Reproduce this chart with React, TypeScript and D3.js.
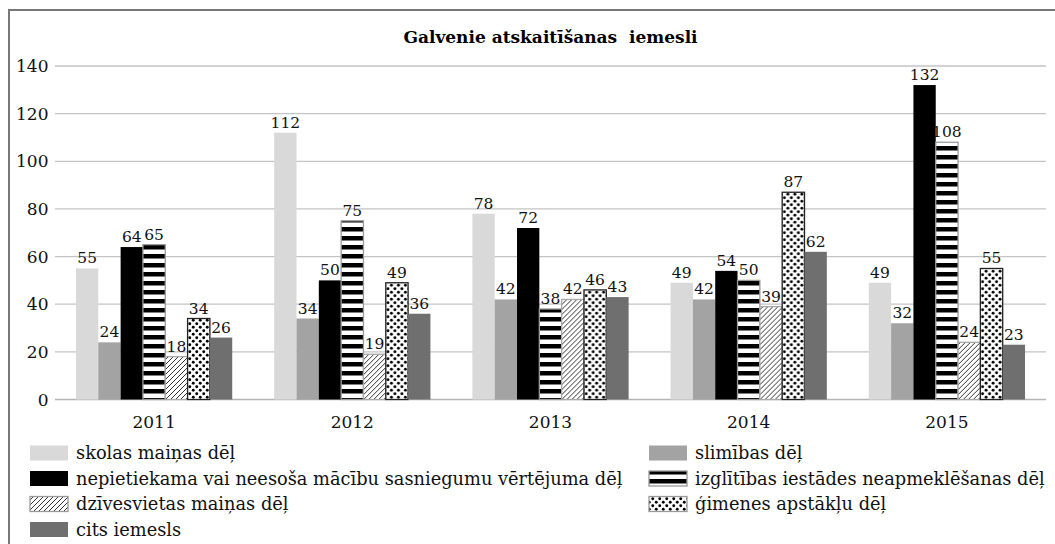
import React from 'react';
import * as d3 from 'd3';

const years = ['2011', '2012', '2013', '2014', '2015'];

const seriesNames = [
  'skolas maiņas dēļ',
  'slimības dēļ',
  'nepietiekama vai neesoša mācību sasniegumu vērtējuma dēļ',
  'izglītības iestādes neapmeklēšanas dēļ',
  'dzīvesvietas maiņas dēļ',
  'ģimenes apstākļu dēļ',
  'cits iemesls',
];

const skolas = [55, 112, 78, 49, 49];
const slimibas = [24, 34, 42, 42, 32];
const nepietiekama = [64, 50, 72, 54, 132];
const izglitibas = [65, 75, 38, 50, 108];
const dzivesvietas = [18, 19, 42, 39, 24];
const gimenes = [34, 49, 46, 87, 55];
const cits = [26, 36, 43, 62, 23];

const seriesValues = [skolas, slimibas, nepietiekama, izglitibas, dzivesvietas, gimenes, cits];

// fill + outline for each series (patterns defined in <defs>)
const fills = ['#d9d9da', '#a3a3a3', '#000000', 'url(#stripes)', 'url(#hatch)', 'url(#dots)', '#6f6f6f'];
const strokes = ['none', 'none', 'none', '#9a9a9a', '#a8a8a8', '#222', 'none'];

const W = 1055;
const H = 544;
const PLOT = { left: 55, right: 1046, top: 66, bottom: 399.5 };
const FONT = '"DejaVu Serif", serif';

const App = () => {
  const x0 = d3.scaleBand<string>().domain(years).range([PLOT.left, PLOT.right]).padding(0);
  const x1 = d3
    .scaleBand<string>()
    .domain(seriesNames)
    .range([0, x0.bandwidth()])
    .paddingInner(0)
    .paddingOuter(0.94);
  const y = d3.scaleLinear().domain([0, 140]).range([PLOT.bottom, PLOT.top]);
  const ticks = y.ticks(7);

  // legend: 2 columns, row-major like Excel
  const legendCols = [30, 649];
  const legendRowY = (r: number) => 453 + r * 25.5;

  return (
    <div style={{ position: 'absolute', left: 0, top: 0 }}>
      <svg width={W} height={H} style={{ display: 'block', background: '#fff' }}>
        <defs>
          <pattern id="stripes" patternUnits="userSpaceOnUse" width={9} height={9}>
            <rect width={9} height={9} fill="#fff" />
            <rect y={2} width={9} height={4.5} fill="#000" />
          </pattern>
          <pattern id="hatch" patternUnits="userSpaceOnUse" width={5} height={5}>
            <rect width={5} height={5} fill="#fff" />
            <path d="M-1,6 L6,-1 M-1,1 L1,-1 M4,6 L6,4" stroke="#000" strokeWidth={0.8} />
          </pattern>
          <pattern id="dots" patternUnits="userSpaceOnUse" width={7} height={7}>
            <rect width={7} height={7} fill="#fff" />
            <circle cx={1.75} cy={1.75} r={1.45} fill="#000" />
            <circle cx={5.25} cy={5.25} r={1.45} fill="#000" />
          </pattern>
        </defs>

        {/* rāmis */}
        <path d={`M9,${H + 5} V10 H${W + 5}`} fill="none" stroke="#777" strokeWidth={2} />

        <text
          x={(PLOT.left + PLOT.right) / 2}
          y={43}
          textAnchor="middle"
          fontFamily={FONT}
          fontWeight="bold"
          fontSize={17}
          style={{ whiteSpace: 'pre' }}
        >
          Galvenie atskaitīšanas  iemesli
        </text>

        {/* režģis un Y ass */}
        {ticks.map((t) => (
          <g key={t}>
            <line
              x1={PLOT.left}
              x2={PLOT.right}
              y1={y(t)}
              y2={y(t)}
              stroke={t === 0 ? '#b5b5b5' : '#c4c4c4'}
              strokeWidth={1.3}
            />
            <text x={48.5} y={y(t) + 6} textAnchor="end" fontFamily={FONT} fontSize={17} fill="#111">
              {t}
            </text>
          </g>
        ))}

        {/* stabiņi */}
        {years.map((yr, i) => (
          <g key={yr} transform={`translate(${x0(yr)},0)`}>
            {seriesNames.map((s, j) => {
              const v = seriesValues[j][i];
              const bx = x1(s) as number;
              const bw = x1.bandwidth();
              return (
                <g key={s}>
                  <rect
                    x={bx}
                    y={y(v)}
                    width={bw}
                    height={y(0) - y(v)}
                    fill={fills[j]}
                    stroke={strokes[j]}
                    strokeWidth={1.3}
                  />
                  <text
                    x={bx + bw / 2}
                    y={y(v) - 5}
                    textAnchor="middle"
                    fontFamily={FONT}
                    fontSize={15.5}
                    fill="#111"
                  >
                    {v}
                  </text>
                </g>
              );
            })}
            <text
              x={x0.bandwidth() / 2}
              y={428}
              textAnchor="middle"
              fontFamily={FONT}
              fontSize={17}
              fill="#111"
            >
              {yr}
            </text>
          </g>
        ))}

        {/* leģenda */}
        {seriesNames.map((s, j) => {
          const col = j % 2;
          const row = Math.floor(j / 2);
          const lx = legendCols[col];
          const ly = legendRowY(row);
          return (
            <g key={s}>
              <rect
                x={lx}
                y={ly - 7.5}
                width={38}
                height={15}
                fill={fills[j]}
                stroke={strokes[j] === 'none' ? 'none' : '#999'}
                strokeWidth={1.3}
              />
              <text x={lx + 46} y={ly + 6} fontFamily={FONT} fontSize={17.8} fill="#111">
                {s}
              </text>
            </g>
          );
        })}
      </svg>
    </div>
  );
};

export default App;
